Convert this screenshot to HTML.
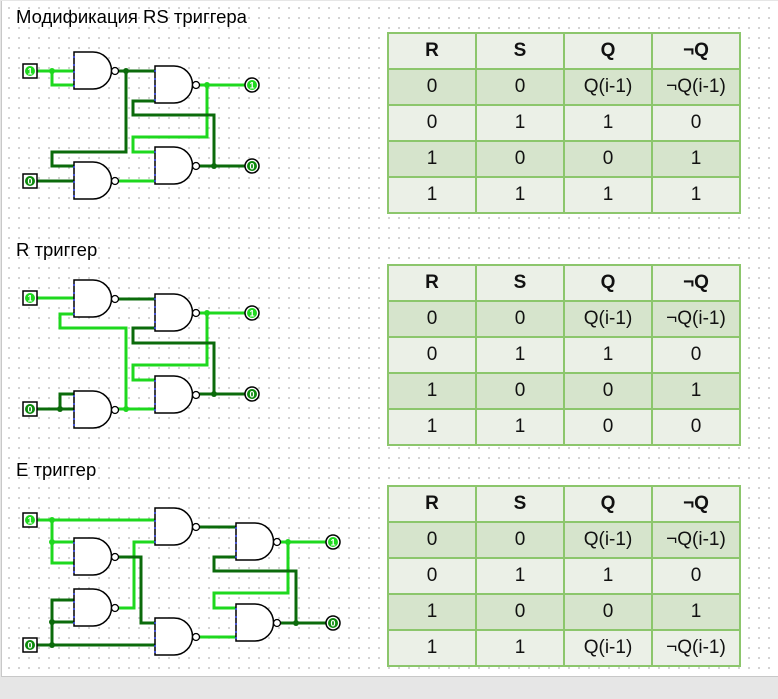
<!DOCTYPE html>
<html><head><meta charset="utf-8"><style>
html,body{margin:0;padding:0;width:778px;height:699px;overflow:hidden;background:#e6e6e6;font-family:"Liberation Sans",sans-serif}
#c{position:absolute;left:1px;top:1px;width:776px;height:675px;background:#fff;border-left:1px solid #c8c8c8;border-bottom:1px solid #c8c8c8;
background-image:radial-gradient(circle,#c4c4c4 0.8px,transparent 1px);background-size:10px 10px;background-position:2px 2px}
.lbl{position:absolute;left:16px;font-size:18.5px;color:#000}
table{position:absolute;left:387px;border-collapse:collapse;font-size:19px;font-family:"Liberation Sans",sans-serif}
td{width:86px;height:34px;border:2px solid #8cc66c;text-align:center;padding:0;background:#ebf0e7;color:#111}
tr.h td{font-weight:bold}
tr.s td{background:#d6e4cc}
svg{position:absolute;left:0;top:0}
</style></head><body>
<div id="c"></div>
<div class="lbl" style="top:6px">Модификация RS триггера</div>
<div class="lbl" style="top:239px">R триггер</div>
<div class="lbl" style="top:459px">E триггер</div>

<svg width="778" height="699" viewBox="0 0 778 699">
<defs>
<g id="g"><path d="M0,0 H19 A18.5,18.5 0 0 1 19,37 H0 Z" fill="#fff" stroke="#000" stroke-width="1.5"/><circle cx="41" cy="19" r="3.5" fill="#fff" stroke="#000" stroke-width="1.3"/>
<g fill="#3344ee"><rect x="-0.7" y="4" width="1.5" height="2"/><rect x="-0.7" y="12" width="1.5" height="2"/><rect x="-0.7" y="19" width="1.5" height="2"/><rect x="-0.7" y="27" width="1.5" height="2"/><rect x="-0.7" y="33" width="1.5" height="2"/></g></g>
</defs>
<g fill="none" stroke-width="3" stroke-linejoin="miter">
<g stroke="#1ed81e">
<path d="M36,71 H74 M52,71 V85 H74"/>
<path d="M199,85 H246 M207,85 V137 H133 V152 H155"/>
<path d="M118,181 H155"/>
</g>
<g stroke="#0b6b0b">
<path d="M118,71 H155 M126,71 V152 H52 V166 H74"/>
<path d="M36,181 H74"/>
<path d="M155,101 H133 V115 H214 V166 M199,166 H246"/>
</g>
<g stroke="#1ed81e">
<path d="M36,298 H74 M74,314 H60 V328 H126 V409 M118,409 H155"/>
<path d="M199,313 H246 M207,313 V365 H133 V380 H155"/>
</g>
<g stroke="#0b6b0b">
<path d="M118,299 H155"/>
<path d="M155,328 H133 V343 H214 V394 M199,394 H246"/>
<path d="M36,409 H74 M60,409 V394 H74"/>
</g>
<g stroke="#1ed81e">
<path d="M36,520 H155 M52,520 V563 H74 M52,542 H74"/>
<path d="M155,542 H134 V608 H118"/>
<path d="M199,637 H236"/>
<path d="M280,542 H327 M288,542 V593 H214 V608 H236"/>
</g>
<g stroke="#0b6b0b">
<path d="M118,557 H141 V623 H155"/>
<path d="M199,527 H236"/>
<path d="M36,645 H155 M52,645 V600 H74 M52,622 H74"/>
<path d="M236,557 H214 V571 H296 V623 M280,623 H327"/>
</g>
</g>
<g fill="#1ed81e"><circle cx="52" cy="71" r="3"/><circle cx="207" cy="85" r="3"/><circle cx="207" cy="313" r="3"/><circle cx="126" cy="409" r="3"/><circle cx="52" cy="520" r="3"/><circle cx="52" cy="542" r="3"/><circle cx="288" cy="542" r="3"/></g>
<g fill="#0b6b0b"><circle cx="126" cy="71" r="3"/><circle cx="214" cy="166" r="3"/><circle cx="214" cy="394" r="3"/><circle cx="60" cy="409" r="3"/><circle cx="52" cy="622" r="3"/><circle cx="52" cy="645" r="3"/><circle cx="296" cy="623" r="3"/></g>
<use href="#g" x="74" y="52"/><use href="#g" x="155" y="66"/><use href="#g" x="74" y="162"/><use href="#g" x="155" y="147"/>
<use href="#g" x="74" y="280"/><use href="#g" x="155" y="294"/><use href="#g" x="74" y="391"/><use href="#g" x="155" y="376"/>
<use href="#g" x="155" y="508"/><use href="#g" x="74" y="538"/><use href="#g" x="74" y="589"/><use href="#g" x="155" y="618"/><use href="#g" x="236" y="523"/><use href="#g" x="236" y="604"/>
<g font-size="9" font-weight="bold" text-anchor="middle" font-family="Liberation Sans,sans-serif">
<g><rect x="23" y="64" width="14" height="14" fill="#fff" stroke="#000" stroke-width="1.5"/><circle cx="30" cy="71" r="5" fill="#1ed81e"/><text x="30" y="74.5" fill="#fff">1</text></g>
<g><rect x="23" y="174" width="14" height="14" fill="#fff" stroke="#000" stroke-width="1.5"/><circle cx="30" cy="181" r="5" fill="#0b8a0b"/><text x="30" y="184.5" fill="#fff">0</text></g>
<g><rect x="23" y="291" width="14" height="14" fill="#fff" stroke="#000" stroke-width="1.5"/><circle cx="30" cy="298" r="5" fill="#1ed81e"/><text x="30" y="301.5" fill="#fff">1</text></g>
<g><rect x="23" y="402" width="14" height="14" fill="#fff" stroke="#000" stroke-width="1.5"/><circle cx="30" cy="409" r="5" fill="#0b8a0b"/><text x="30" y="412.5" fill="#fff">0</text></g>
<g><rect x="23" y="513" width="14" height="14" fill="#fff" stroke="#000" stroke-width="1.5"/><circle cx="30" cy="520" r="5" fill="#1ed81e"/><text x="30" y="523.5" fill="#fff">1</text></g>
<g><rect x="23" y="638" width="14" height="14" fill="#fff" stroke="#000" stroke-width="1.5"/><circle cx="30" cy="645" r="5" fill="#0b8a0b"/><text x="30" y="648.5" fill="#fff">0</text></g>
<g><circle cx="252" cy="85" r="7" fill="#fff" stroke="#000" stroke-width="1.5"/><circle cx="252" cy="85" r="5" fill="#1ed81e"/><text x="252" y="88.5" fill="#fff">1</text></g>
<g><circle cx="252" cy="166" r="7" fill="#fff" stroke="#000" stroke-width="1.5"/><circle cx="252" cy="166" r="5" fill="#0b8a0b"/><text x="252" y="169.5" fill="#fff">0</text></g>
<g><circle cx="252" cy="313" r="7" fill="#fff" stroke="#000" stroke-width="1.5"/><circle cx="252" cy="313" r="5" fill="#1ed81e"/><text x="252" y="316.5" fill="#fff">1</text></g>
<g><circle cx="252" cy="394" r="7" fill="#fff" stroke="#000" stroke-width="1.5"/><circle cx="252" cy="394" r="5" fill="#0b8a0b"/><text x="252" y="397.5" fill="#fff">0</text></g>
<g><circle cx="333" cy="542" r="7" fill="#fff" stroke="#000" stroke-width="1.5"/><circle cx="333" cy="542" r="5" fill="#1ed81e"/><text x="333" y="545.5" fill="#fff">1</text></g>
<g><circle cx="333" cy="623" r="7" fill="#fff" stroke="#000" stroke-width="1.5"/><circle cx="333" cy="623" r="5" fill="#0b8a0b"/><text x="333" y="626.5" fill="#fff">0</text></g>
</g>
</svg>

<table style="top:32px">
<tr class="h"><td>R</td><td>S</td><td>Q</td><td>¬Q</td></tr>
<tr class="s"><td>0</td><td>0</td><td>Q(i-1)</td><td>¬Q(i-1)</td></tr>
<tr><td>0</td><td>1</td><td>1</td><td>0</td></tr>
<tr class="s"><td>1</td><td>0</td><td>0</td><td>1</td></tr>
<tr><td>1</td><td>1</td><td>1</td><td>1</td></tr>
</table>
<table style="top:264px">
<tr class="h"><td>R</td><td>S</td><td>Q</td><td>¬Q</td></tr>
<tr class="s"><td>0</td><td>0</td><td>Q(i-1)</td><td>¬Q(i-1)</td></tr>
<tr><td>0</td><td>1</td><td>1</td><td>0</td></tr>
<tr class="s"><td>1</td><td>0</td><td>0</td><td>1</td></tr>
<tr><td>1</td><td>1</td><td>0</td><td>0</td></tr>
</table>
<table style="top:485px">
<tr class="h"><td>R</td><td>S</td><td>Q</td><td>¬Q</td></tr>
<tr class="s"><td>0</td><td>0</td><td>Q(i-1)</td><td>¬Q(i-1)</td></tr>
<tr><td>0</td><td>1</td><td>1</td><td>0</td></tr>
<tr class="s"><td>1</td><td>0</td><td>0</td><td>1</td></tr>
<tr><td>1</td><td>1</td><td>Q(i-1)</td><td>¬Q(i-1)</td></tr>
</table>
</body></html>
